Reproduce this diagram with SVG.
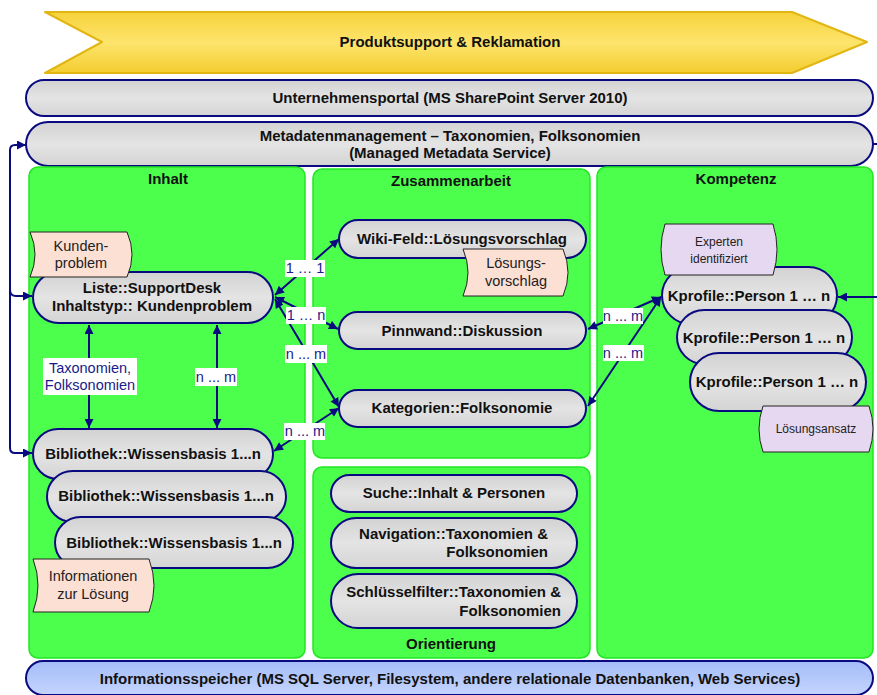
<svg xmlns="http://www.w3.org/2000/svg" width="877" height="695" viewBox="0 0 877 695">
<style>
text{font-family:"Liberation Sans",Arial,sans-serif;}
.t{font-size:15px;font-weight:bold;fill:#111;text-anchor:middle;}
.h{font-size:15px;font-weight:bold;fill:#111;text-anchor:middle;}
.lb{font-size:14.5px;fill:#1a1a8a;text-anchor:middle;}
.dt{font-size:14.5px;fill:#222;text-anchor:middle;}
.lt{font-size:12px;fill:#222;text-anchor:middle;}
.panel{fill:#4dff4d;stroke:#22e622;stroke-width:1.5;}
.node{fill:url(#gGrey);stroke:#0a0a80;stroke-width:2;}
.pink{fill:#fde0d4;stroke:#222;stroke-width:1;}
.lilac{fill:#e6d8f0;stroke:#222;stroke-width:1;}
.box{fill:#fff;}
.c{fill:none;stroke:#0a0a80;stroke-width:2;}
.ca{fill:none;stroke:#0a0a80;stroke-width:2;marker-end:url(#ah);}
.cb{fill:none;stroke:#0a0a80;stroke-width:2;marker-start:url(#ah);marker-end:url(#ah);}
</style>
<defs>
<linearGradient id="gGrey" x1="0" y1="0" x2="0" y2="1">
<stop offset="0" stop-color="#d2d2d2"/><stop offset="0.5" stop-color="#e4e4e4"/><stop offset="1" stop-color="#d4d4d4"/>
</linearGradient>
<linearGradient id="gYel" x1="0" y1="0" x2="0" y2="1">
<stop offset="0" stop-color="#f6d23a"/><stop offset="0.5" stop-color="#fde46c"/><stop offset="1" stop-color="#f3cd30"/>
</linearGradient>
<linearGradient id="gBlue" x1="0" y1="0" x2="0" y2="1">
<stop offset="0" stop-color="#a4bcf8"/><stop offset="1" stop-color="#c4d4fd"/>
</linearGradient>
<marker id="ah" viewBox="0 0 10 10" refX="10" refY="5" markerWidth="11" markerHeight="9" markerUnits="userSpaceOnUse" orient="auto-start-reverse">
<path d="M0,0 L10,5 L0,10 z" fill="#0a0a80"/>
</marker>
</defs>
<rect width="877" height="695" fill="#fff"/>

<g id="produktsupport">
<path d="M45,12 H792 L867,42 L792,73 H45 L102,42 Z" fill="url(#gYel)" stroke="#e2b612" stroke-width="2" stroke-linejoin="round"/>
<text class="h" x="450" y="47">Produktsupport &amp; Reklamation</text>
</g>
<g id="unternehmensportal">
<rect x="26" y="80" width="847" height="36" rx="18" class="node"/>
<text class="h" x="450" y="103">Unternehmensportal (MS SharePoint Server 2010)</text>
</g>
<g id="metadatenmanagement">
<rect x="26" y="122" width="847" height="44" rx="22" class="node"/>
<text class="h" x="450" y="141">Metadatenmanagement – Taxonomien, Folksonomien</text>
<text class="h" x="450" y="158">(Managed Metadata Service)</text>
</g>

<g id="inhalt">
<rect x="29" y="167" width="276" height="491" rx="9" class="panel"/>
<text class="t" x="168" y="184">Inhalt</text>
</g>
<g id="zusammenarbeit">
<rect x="313" y="169" width="277" height="289" rx="9" class="panel"/>
<text class="t" x="451" y="186">Zusammenarbeit</text>
</g>
<g id="orientierung">
<rect x="313" y="467" width="277" height="191" rx="9" class="panel"/>
<text class="t" x="451" y="649">Orientierung</text>
</g>
<g id="kompetenz">
<rect x="597" y="167" width="276" height="491" rx="9" class="panel"/>
<text class="t" x="736" y="184">Kompetenz</text>
</g>
<g id="informationsspeicher">
<rect x="26" y="661" width="847" height="34" rx="17" fill="url(#gBlue)" stroke="#0a0a80" stroke-width="2"/>
<text class="h" x="450" y="684">Informationsspeicher (MS SQL Server, Filesystem, andere relationale Datenbanken, Web Services)</text>
</g>

<g id="liste">
<rect x="33" y="272" width="240" height="51" rx="25.5" class="node"/>
<text class="t" x="152" y="293">Liste::SupportDesk</text>
<text class="t" x="152" y="311">Inhaltstyp:: Kundenproblem</text>
</g>
<g id="kundenproblem">
<path d="M30,232 H127 Q137,254.5 127,277 H30 Q40,254.5 30,232 Z" class="pink"/>
<text class="dt" x="81" y="251">Kunden-</text>
<text class="dt" x="81" y="268">problem</text>
</g>
<g id="bibliothek1">
<rect x="33" y="429" width="240" height="50" rx="25" class="node"/>
<text class="t" x="153" y="459">Bibliothek::Wissensbasis 1...n</text>
</g>
<g id="bibliothek2">
<rect x="47" y="471" width="239" height="51" rx="25.5" class="node"/>
<text class="t" x="166" y="501">Bibliothek::Wissensbasis 1...n</text>
</g>
<g id="bibliothek3">
<rect x="55" y="517" width="238" height="51" rx="25.5" class="node"/>
<text class="t" x="174" y="548">Bibliothek::Wissensbasis 1...n</text>
</g>
<g id="informationen">
<path d="M33,559 H149 Q159,585.5 149,612 H33 Q43,585.5 33,559 Z" class="pink"/>
<text class="dt" x="93" y="581">Informationen</text>
<text class="dt" x="93" y="599">zur Lösung</text>
</g>

<g id="wiki">
<rect x="339" y="220" width="247" height="38" rx="19" class="node"/>
<text class="t" x="462" y="244">Wiki-Feld::Lösungsvorschlag</text>
</g>
<g id="loesungsvorschlag">
<path d="M463,249 H563 Q573,272.5 563,296 H463 Q473,272.5 463,249 Z" class="pink"/>
<text class="dt" x="516" y="268">Lösungs-</text>
<text class="dt" x="516" y="286">vorschlag</text>
</g>
<g id="pinnwand">
<rect x="339" y="312" width="247" height="37" rx="18.5" class="node"/>
<text class="t" x="462" y="336">Pinnwand::Diskussion</text>
</g>
<g id="kategorien">
<rect x="339" y="390" width="247" height="37" rx="18.5" class="node"/>
<text class="t" x="462" y="413">Kategorien::Folksonomie</text>
</g>

<g id="suche">
<rect x="331" y="475" width="246" height="37" rx="18.5" class="node"/>
<text class="t" x="454" y="498">Suche::Inhalt &amp; Personen</text>
</g>
<g id="navigation">
<rect x="331" y="518" width="246" height="50" rx="25" class="node"/>
<text class="t" x="548" y="539" style="text-anchor:end">Navigation::Taxonomien &amp;</text>
<text class="t" x="548" y="557" style="text-anchor:end">Folksonomien</text>
</g>
<g id="schluesselfilter">
<rect x="331" y="574" width="246" height="54" rx="27" class="node"/>
<text class="t" x="561" y="597" style="text-anchor:end">Schlüsselfilter::Taxonomien &amp;</text>
<text class="t" x="561" y="616" style="text-anchor:end">Folksonomien</text>
</g>

<g id="kprofile1">
<rect x="662" y="267" width="175" height="57" rx="28.5" class="node"/>
<text class="t" x="749" y="301">Kprofile::Person 1 … n</text>
</g>
<g id="kprofile2">
<rect x="677" y="310" width="175" height="54" rx="27" class="node"/>
<text class="t" x="764" y="343">Kprofile::Person 1 … n</text>
</g>
<g id="kprofile3">
<rect x="690" y="353" width="176" height="58" rx="29" class="node"/>
<text class="t" x="777" y="387">Kprofile::Person 1 … n</text>
</g>
<g id="experten">
<path d="M665,224 H773 Q781,249.5 773,275 H665 Q657,249.5 665,224 Z" class="lilac"/>
<text class="lt" x="719" y="246">Experten</text>
<text class="lt" x="719" y="263">identifiziert</text>
</g>
<g id="loesungsansatz">
<path d="M763,406 H869 Q877,429 869,452 H763 Q755,429 763,406 Z" class="lilac"/>
<text class="lt" x="816" y="433">Lösungsansatz</text>
</g>

<g id="connectors">
<path class="ca" d="M10,160 V150 Q10,145 15,145 H26"/>
<path class="ca" d="M10,150 V448 Q10,453 15,453 H32"/>
<path class="ca" d="M10,290 Q10,296 16,296 H32"/>
<path class="ca" d="M873,144 H882 V297 H838"/>
<path class="cb" d="M89,325 V428"/>
<path class="cb" d="M217,325 V428"/>
<path class="cb" d="M275,295 L339,239"/>
<path class="cb" d="M275,297 L338,329"/>
<path class="cb" d="M275,299 L339,407"/>
<path class="cb" d="M274,451 L339,408"/>
<path class="cb" d="M661,297 L588,329"/>
<path class="cb" d="M661,297 L588,406"/>
<rect class="box" x="43" y="358" width="94" height="37"/>
<text class="lb" x="90" y="373">Taxonomien,</text>
<text class="lb" x="90" y="390">Folksonomien</text>
<rect class="box" x="195" y="368" width="42" height="18"/>
<text class="lb" x="216" y="382">n ... m</text>
<rect class="box" x="285" y="260" width="40" height="17"/>
<text class="lb" x="305" y="273">1 … 1</text>
<rect class="box" x="286" y="307" width="40" height="17"/>
<text class="lb" x="306" y="320">1 … n</text>
<rect class="box" x="285" y="345" width="42" height="18"/>
<text class="lb" x="306" y="359">n ... m</text>
<rect class="box" x="284" y="423" width="41" height="17"/>
<text class="lb" x="305" y="436">n ... m</text>
<rect class="box" x="603" y="308" width="40" height="16"/>
<text class="lb" x="623" y="321">n ... m</text>
<rect class="box" x="603" y="345" width="41" height="16"/>
<text class="lb" x="623" y="358">n ... m</text>
</g>
</svg>
